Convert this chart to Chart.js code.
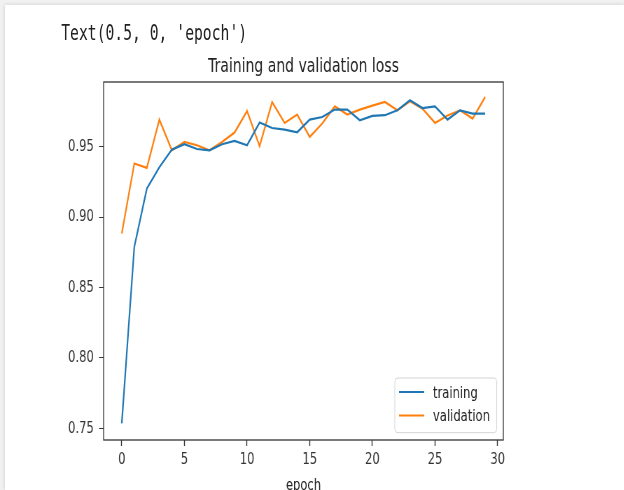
<!DOCTYPE html>
<html>
<head>
<meta charset="utf-8">
<script src="https://cdn.jsdelivr.net/npm/chart.js@4.4.0/dist/chart.umd.min.js"></script>
<style>
  html, body { margin: 0; padding: 0; width: 624px; height: 490px; overflow: hidden; background: #f1f1f1; }
  #panel { position: absolute; left: 5px; top: 5px; width: 619px; height: 485px; background: #fff; box-shadow: 0 0 4px rgba(0,0,0,0.15); }
  #wrap { position: absolute; left: 0; top: 0; width: 892px; height: 500px; transform: scaleX(0.7); transform-origin: 0 0; }
  #out { position: absolute; left: 87.5px; top: 22.5px; font-family: "DejaVu Sans Mono", monospace; font-size: 21px; line-height: 21px; color: #222; white-space: pre; }
  canvas { position: absolute; left: 0; top: 0; }
</style>
</head>
<body>
<div id="panel"></div>
<div id="wrap">
  <div id="out">Text(0.5, 0, 'epoch')</div>
  <canvas id="c" width="892" height="500" style="width:892px;height:500px"></canvas>
</div>
<script>
// epochs 0..29
var epochs = [0, 1, 2, 3, 4, 5, 6, 7, 8, 9, 10, 11, 12, 13, 14, 15, 16, 17, 18, 19, 20, 21, 22, 23, 24, 25, 26, 27, 28, 29]

var trainLoss = [0.7535, 0.8789, 0.9203, 0.9355, 0.9480, 0.9518, 0.9484, 0.9475, 0.9518, 0.9541,
  0.9511, 0.9672, 0.9633, 0.9622, 0.9603, 0.9693, 0.9711, 0.9764, 0.9764, 0.9688,
  0.9719, 0.9724, 0.9759, 0.9830, 0.9775, 0.9787, 0.9693, 0.9759, 0.9736, 0.9736]

var valLoss = [0.8884, 0.9381, 0.9350, 0.9693, 0.9475, 0.9534, 0.9511, 0.9475, 0.9534, 0.9601,
  0.9754, 0.9504, 0.9818, 0.9669, 0.9729, 0.9570, 0.9665, 0.9787, 0.9729, 0.9764,
  0.9792, 0.9818, 0.9759, 0.9823, 0.9771, 0.9669, 0.9722, 0.9759, 0.9700, 0.9853]

var xTicks = [0, 5, 10, 15, 20, 25, 30]
var yTicks = [0.75, 0.80, 0.85, 0.90, 0.95]

var seriesNames = ['training', 'validation']
var seriesColors = ['#1f77b4', '#ff7f0e']

var tickFont = { family: 'DejaVu Sans', size: 16.5 }

// black box around the axes, like matplotlib
var frame = {
  id: 'frame',
  afterDraw: function (chart) {
    var a = chart.chartArea
    var ctx = chart.ctx
    ctx.save()
    ctx.strokeStyle = '#333'
    ctx.lineWidth = 1.3
    ctx.strokeRect(a.left, a.top, a.right - a.left, a.bottom - a.top)
    ctx.restore()
  }
}

// legend inside the plot, lower right
var legendBox = {
  id: 'legendBox',
  afterDraw: function (chart) {
    var a = chart.chartArea
    var ctx = chart.ctx
    var w = 145.6, h = 54.7
    var x = a.right - 9.4 - w
    var y = a.bottom - 7.3 - h
    ctx.save()
    ctx.fillStyle = 'rgba(255,255,255,0.8)'
    ctx.strokeStyle = '#d3d3d3'
    ctx.lineWidth = 1
    ctx.beginPath()
    ctx.roundRect(x, y, w, h, 4)
    ctx.fill()
    ctx.stroke()
    ctx.font = '16.5px "DejaVu Sans"'
    ctx.textBaseline = 'middle'
    ctx.fillStyle = '#222'
    chart.data.datasets.forEach(function (ds, i) {
      var ry = y + 14 + i * 23.5
      ctx.strokeStyle = ds.borderColor
      ctx.lineWidth = 2.2
      ctx.beginPath()
      ctx.moveTo(x + 6, ry)
      ctx.lineTo(x + 42, ry)
      ctx.stroke()
      ctx.fillText(ds.label, x + 54.6, ry + 1.5)
    })
    ctx.restore()
  }
}

var datasets = [trainLoss, valLoss].map(function (vals, i) {
  return {
    label: seriesNames[i],
    data: epochs.map(function (e, j) { return { x: e, y: vals[j] } }),
    borderColor: seriesColors[i],
    backgroundColor: seriesColors[i],
    borderWidth: 2.2,
    pointRadius: 0,
    tension: 0,
    fill: false
  }
})

new Chart(document.getElementById('c'), {
  type: 'line',
  data: { datasets: datasets },
  options: {
    responsive: false,
    animation: false,
    devicePixelRatio: 1,
    layout: { padding: { left: 88, right: 113, top: 0, bottom: 0 } },
    plugins: {
      legend: { display: false },
      tooltip: { enabled: false },
      title: {
        display: true,
        text: 'Training and validation loss',
        color: '#222',
        font: { family: 'DejaVu Sans', size: 20, weight: 'normal', lineHeight: 1.2 },
        padding: { top: 54.5, bottom: 3.5 }
      }
    },
    scales: {
      x: {
        type: 'linear',
        min: -1.45,
        max: 30.45,
        afterFit: function (s) { s.height = 60 },
        afterBuildTicks: function (s) { s.ticks = xTicks.map(function (v) { return { value: v } }) },
        grid: { drawOnChartArea: false, drawTicks: true, tickLength: 6, color: '#333', tickWidth: 1.4 },
        border: { display: false },
        ticks: { color: '#333', font: tickFont, padding: 4, maxRotation: 0, autoSkip: false },
        title: { display: true, text: 'epoch', color: '#222', font: tickFont, padding: { top: 0, bottom: 4.5 } }
      },
      y: {
        min: 0.7417,
        max: 0.996,
        afterFit: function (s) { s.width = 60 },
        afterBuildTicks: function (s) { s.ticks = yTicks.map(function (v) { return { value: v } }) },
        grid: { drawOnChartArea: false, drawTicks: true, tickLength: 6.5, color: '#333', tickWidth: 1 },
        border: { display: false },
        ticks: { color: '#333', font: tickFont, padding: 7.5, callback: function (v) { return v.toFixed(2) } }
      },
      // empty right axis, same width as the left one, so the title sits over the plot
      yRight: {
        position: 'right',
        min: 0,
        max: 1,
        afterFit: function (s) { s.width = 60 },
        grid: { display: false },
        border: { display: false },
        ticks: { display: false }
      }
    }
  },
  plugins: [frame, legendBox]
})
</script>
</body>
</html>
